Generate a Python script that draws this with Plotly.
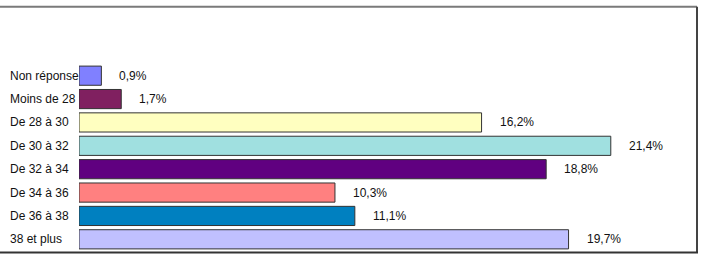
import plotly.graph_objects as go

categories = ["Non réponse", "Moins de 28", "De 28 à 30", "De 30 à 32",
              "De 32 à 34", "De 34 à 36", "De 36 à 38", "38 et plus"]
values = [0.9, 1.7, 16.2, 21.4, 18.8, 10.3, 11.1, 19.7]
colors = ["#8080FF", "#802060", "#FFFFC0", "#A0E0E0",
          "#600080", "#FF8080", "#0080C0", "#C0C0FF"]
value_labels = [f"{v:.1f}%".replace(".", ",") for v in values]

W, H = 702, 256
ML, MR, MT, MB = 79, 5, 63.5, 4.5
pw = W - ML - MR
ph = H - MT - MB

fig = go.Figure()
fig.add_trace(go.Bar(
    x=values, y=categories, orientation="h",
    marker=dict(color=colors, line=dict(color="#333333", width=1)),
    hoverinfo="skip", showlegend=False,
))

font = dict(family="Liberation Sans, Arial, sans-serif", size=12, color="#111111")
ann = []
for c, v, t in zip(categories, values, value_labels):
    ann.append(dict(x=v, y=c, xref="x", yref="y", text=t, showarrow=False,
                    xanchor="left", yanchor="middle", xshift=16, font=font))
    ann.append(dict(x=(8 - ML) / pw, y=c, xref="paper", yref="y", text=c,
                    showarrow=False, xanchor="left", yanchor="middle", font=font))

def px_x(x):
    return (x - ML) / pw

def px_y(y):
    return (H - MB - y) / ph

shapes = [
    # outer frame
    dict(type="line", xref="paper", yref="paper", x0=px_x(-5), x1=px_x(697),
         y0=px_y(6), y1=px_y(6), line=dict(color="#7a7a7a", width=2)),
    dict(type="line", xref="paper", yref="paper", x0=px_x(697), x1=px_x(697),
         y0=px_y(6), y1=px_y(253), line=dict(color="#444444", width=2)),
    dict(type="line", xref="paper", yref="paper", x0=px_x(-5), x1=px_x(698),
         y0=px_y(253), y1=px_y(253), line=dict(color="#333333", width=2)),
]

fig.update_layout(
    width=W, height=H,
    margin=dict(l=ML, r=MR, t=MT, b=MB, pad=0),
    paper_bgcolor="white", plot_bgcolor="white",
    bargap=0.18,
    xaxis=dict(range=[0, pw / 24.85], showgrid=False, zeroline=False,
               showticklabels=False, showline=False, ticks=""),
    yaxis=dict(autorange="reversed", showgrid=False, zeroline=False,
               showticklabels=False, showline=False, ticks=""),
    annotations=ann, shapes=shapes,
)

fig.write_html("out.html")
